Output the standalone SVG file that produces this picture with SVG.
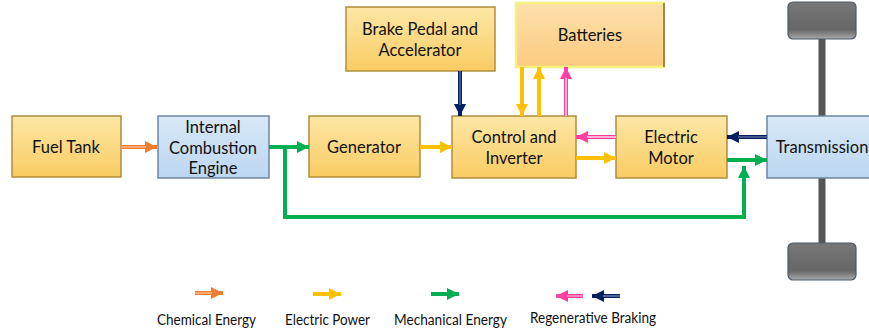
<svg xmlns="http://www.w3.org/2000/svg" width="869" height="333" viewBox="0 0 869 333">
<style>
text{font-family:Lato,"Open Sans","Liberation Sans",sans-serif;font-size:16.5px;fill:#111;text-anchor:middle}
.lg{font-size:15.5px}
.y{fill:url(#gy);stroke:#b08d3c;stroke-width:1.5}
.b{fill:url(#gb);stroke:#6d86a6;stroke-width:1.5}
.w{fill:url(#gw);stroke:#4a5a6a;stroke-width:1.2}
.sh{fill:none;stroke-width:4}
.in{fill:none;stroke-width:1.2}
</style>
<defs>
<linearGradient id="gy" x1="0" y1="0" x2="0" y2="1"><stop offset="0" stop-color="#fde7a6"/><stop offset="1" stop-color="#f9cc62"/></linearGradient>
<linearGradient id="gbat" x1="0" y1="0" x2="0" y2="1"><stop offset="0" stop-color="#fde0ab"/><stop offset="1" stop-color="#fbcb80"/></linearGradient>
<linearGradient id="gb" x1="0" y1="0" x2="0" y2="1"><stop offset="0" stop-color="#d8e8f8"/><stop offset="1" stop-color="#bcd6f0"/></linearGradient>
<linearGradient id="gw" x1="0" y1="0" x2="0" y2="1"><stop offset="0" stop-color="#777"/><stop offset="0.75" stop-color="#666"/><stop offset="1" stop-color="#aaa"/></linearGradient>
<marker id="mY" markerUnits="userSpaceOnUse" markerWidth="14" markerHeight="14" refX="12" refY="6" orient="auto"><path d="M0,0L12,6L0,12z" fill="#ffc000"/></marker>
<marker id="mG" markerUnits="userSpaceOnUse" markerWidth="14" markerHeight="14" refX="12" refY="6" orient="auto"><path d="M0,0L12,6L0,12z" fill="#00b050"/></marker>
<marker id="mP" markerUnits="userSpaceOnUse" markerWidth="14" markerHeight="14" refX="12" refY="6" orient="auto"><path d="M0,0L12,6L0,12z" fill="#ff3fa0"/></marker>
<marker id="mN" markerUnits="userSpaceOnUse" markerWidth="14" markerHeight="14" refX="12" refY="6" orient="auto"><path d="M0,0L12,6L0,12z" fill="#002060"/></marker>
<marker id="mO" markerUnits="userSpaceOnUse" markerWidth="14" markerHeight="14" refX="12" refY="6" orient="auto"><path d="M0,0L12,6L0,12z" fill="#ed7d31"/></marker>
</defs>

<g id="wheels">
<line x1="822" y1="38" x2="822" y2="244" stroke="#555" stroke-width="7"/>
<rect x="788" y="2" width="68" height="37" rx="5" class="w"/>
<rect x="788" y="243" width="68" height="37" rx="5" class="w"/>
</g>

<g id="fuel-tank"><rect x="12" y="116" width="109" height="61" class="y"/><text x="66" y="153">Fuel Tank</text></g>
<g id="ice"><rect x="158" y="116" width="111" height="62" class="b"/><text x="213" y="133">Internal</text><text x="213" y="153.5">Combustion</text><text x="213" y="174">Engine</text></g>
<g id="generator"><rect x="309" y="116" width="111" height="61" class="y"/><text x="364" y="153">Generator</text></g>
<g id="control"><rect x="452" y="116" width="124" height="62" class="y"/><text x="514" y="143">Control and</text><text x="514" y="164">Inverter</text></g>
<g id="brake"><rect x="346" y="7" width="149" height="64" class="y"/><text x="420" y="35">Brake Pedal and</text><text x="420" y="56">Accelerator</text></g>
<g id="batteries"><rect x="516" y="3" width="148" height="64" fill="url(#gbat)" stroke="#f6f080" stroke-width="2.5"/><line x1="664" y1="3" x2="664" y2="67" stroke="#9c8a45" stroke-width="2"/><text x="590" y="41">Batteries</text></g>
<g id="motor"><rect x="616" y="116" width="111" height="62" class="y"/><text x="671" y="143">Electric</text><text x="671" y="164">Motor</text></g>
<g id="transmission"><rect x="767" y="116" width="115" height="62" class="b"/><text x="822" y="153">Transmission</text></g>

<g id="connectors">
<line x1="122" y1="147" x2="157" y2="147" class="sh" stroke="#ed7d31" marker-end="url(#mO)"/>
<line x1="122" y1="147" x2="146" y2="147" class="in" stroke="#f8c8a8"/>
<line x1="269" y1="147" x2="309" y2="147" class="sh" stroke="#00b050" marker-end="url(#mG)"/>
<polyline points="285,147 285,217 744,217 744,166" class="sh" stroke="#00b050" marker-end="url(#mG)"/>
<line x1="420" y1="147" x2="452" y2="147" class="sh" stroke="#ffc000" marker-end="url(#mY)"/>
<line x1="460" y1="71" x2="460" y2="116" class="sh" stroke="#002060" marker-end="url(#mN)"/>
<line x1="460" y1="71" x2="460" y2="105" class="in" stroke="#6a7ea8"/>
<line x1="522" y1="67" x2="522" y2="116" class="sh" stroke="#ffc000" marker-end="url(#mY)"/>
<line x1="539" y1="116" x2="539" y2="67" class="sh" stroke="#ffc000" marker-end="url(#mY)"/>
<line x1="566" y1="116" x2="566" y2="67" class="sh" stroke="#ff3fa0" marker-end="url(#mP)"/>
<line x1="566" y1="116" x2="566" y2="78" class="in" stroke="#fff"/>
<line x1="616" y1="137" x2="576" y2="137" class="sh" stroke="#ff3fa0" marker-end="url(#mP)"/>
<line x1="616" y1="137" x2="587" y2="137" class="in" stroke="#fff"/>
<line x1="576" y1="158" x2="616" y2="158" class="sh" stroke="#ffc000" marker-end="url(#mY)"/>
<line x1="767" y1="137" x2="727" y2="137" class="sh" stroke="#002060" marker-end="url(#mN)"/>
<line x1="767" y1="137" x2="738" y2="137" class="in" stroke="#6a7ea8"/>
<line x1="727" y1="160" x2="767" y2="160" class="sh" stroke="#00b050" marker-end="url(#mG)"/>
</g>

<g id="legend">
<line x1="195" y1="293" x2="223" y2="293" class="sh" stroke="#ed7d31" marker-end="url(#mO)"/>
<line x1="195" y1="293" x2="212" y2="293" class="in" stroke="#f8c8a8"/>
<line x1="313" y1="294" x2="341" y2="294" class="sh" stroke="#ffc000" marker-end="url(#mY)"/>
<line x1="431" y1="294" x2="459" y2="294" class="sh" stroke="#00b050" marker-end="url(#mG)"/>
<line x1="583" y1="296" x2="556" y2="296" class="sh" stroke="#ff3fa0" marker-end="url(#mP)"/>
<line x1="583" y1="296" x2="567" y2="296" class="in" stroke="#f3b0d0"/>
<line x1="620" y1="296" x2="592" y2="296" class="sh" stroke="#002060" marker-end="url(#mN)"/>
<line x1="620" y1="296" x2="603" y2="296" class="in" stroke="#8a98b8"/>
<text class="lg" x="206.5" y="325" textLength="99" lengthAdjust="spacingAndGlyphs">Chemical Energy</text>
<text class="lg" x="327.5" y="325" textLength="85" lengthAdjust="spacingAndGlyphs">Electric Power</text>
<text class="lg" x="450.5" y="325" textLength="113" lengthAdjust="spacingAndGlyphs">Mechanical Energy</text>
<text class="lg" x="593" y="323" textLength="126" lengthAdjust="spacingAndGlyphs">Regenerative Braking</text>
</g>
</svg>
